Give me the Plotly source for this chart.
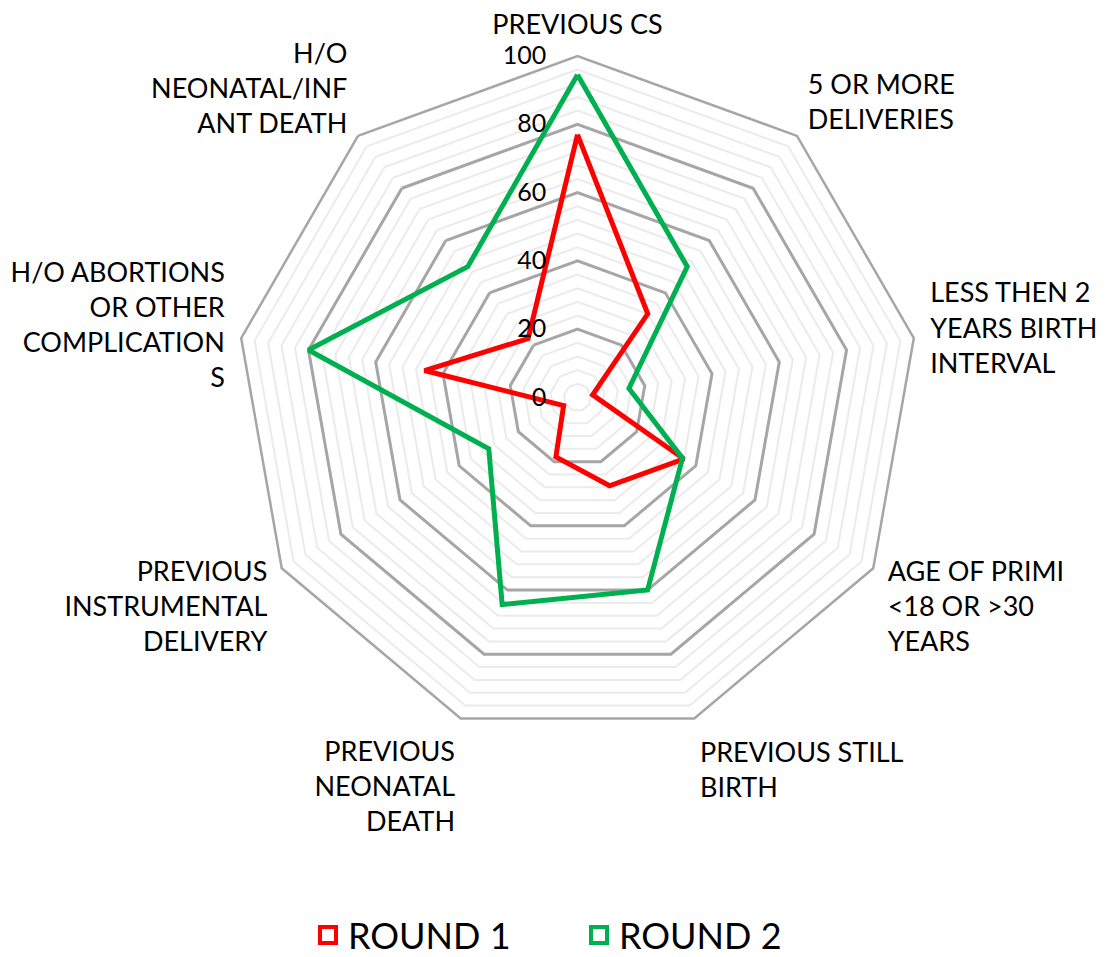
import plotly.graph_objects as go

categories = [
    "PREVIOUS CS",
    "5 OR MORE DELIVERIES",
    "LESS THEN 2 YEARS BIRTH INTERVAL",
    "AGE OF PRIMI <18 OR >30 YEARS",
    "PREVIOUS STILL BIRTH",
    "PREVIOUS NEONATAL DEATH",
    "PREVIOUS INSTRUMENTAL DELIVERY",
    "H/O ABORTIONS OR OTHER COMPLICATIONS",
    "H/O NEONATAL/INFANT DEATH",
]
# wrapped the way the original chart wraps them
tick_labels = [
    "PREVIOUS CS",
    "5 OR MORE<br>DELIVERIES",
    "LESS THEN 2<br>YEARS BIRTH<br>INTERVAL",
    "AGE OF PRIMI<br>&lt;18 OR &gt;30<br>YEARS",
    "PREVIOUS STILL<br>BIRTH",
    "PREVIOUS<br>NEONATAL<br>DEATH",
    "PREVIOUS<br>INSTRUMENTAL<br>DELIVERY",
    "H/O ABORTIONS<br>OR OTHER<br>COMPLICATION<br>S",
    "H/O<br>NEONATAL/INF<br>ANT DEATH",
]
round_1 = [77, 32, 4.5, 36, 27.5, 18.5, 4.7, 45.5, 22.5]
round_2 = [94.5, 50, 15.3, 35.5, 60, 64.5, 30, 80, 50]

RED = "#FF0000"
GREEN = "#00B050"
FONT = "Lato"


def closed(vals):
    return list(vals) + [vals[0]]


fig = go.Figure()

# invisible trace so the minor-grid subplot gets drawn
fig.add_trace(
    go.Scatterpolar(
        r=closed(round_1),
        theta=closed(categories),
        mode="lines",
        line=dict(width=0),
        opacity=0,
        hoverinfo="skip",
        showlegend=False,
        subplot="polar",
    )
)

for name, vals, color in [("ROUND 1", round_1, RED), ("ROUND 2", round_2, GREEN)]:
    fig.add_trace(
        go.Scatterpolar(
            r=closed(vals),
            theta=closed(categories),
            mode="lines",
            name=name,
            line=dict(color=color, width=5),
            showlegend=False,
            subplot="polar2",
        )
    )
    fig.add_trace(
        go.Scatterpolar(
            r=[None],
            theta=[None],
            mode="markers",
            name=name,
            marker=dict(
                symbol="square-open", size=16, color=color,
                line=dict(color=color, width=4),
            ),
            subplot="polar2",
        )
    )

domain = dict(x=[228 / 1112, 911 / 1112], y=[226 / 957, 909 / 957])

fig.update_layout(
    width=1112,
    height=957,
    margin=dict(l=0, r=0, t=0, b=0),
    paper_bgcolor="white",
    font=dict(family=FONT, color="black"),
    polar=dict(
        domain=domain,
        gridshape="linear",
        bgcolor="white",
        radialaxis=dict(
            range=[0, 100], tick0=0, dtick=4, showticklabels=False,
            showline=False, ticks="", gridcolor="#EBEBEB", gridwidth=1.5,
            angle=90,
        ),
        angularaxis=dict(
            rotation=90, direction="clockwise", showgrid=False,
            showline=False, showticklabels=False, ticks="",
        ),
    ),
    polar2=dict(
        domain=domain,
        gridshape="linear",
        bgcolor="rgba(0,0,0,0)",
        radialaxis=dict(
            range=[0, 100], tick0=0, dtick=20, showline=False,
            gridcolor="#A6A6A6", gridwidth=2.5, angle=90, tickangle=90,
            side="counterclockwise", ticks="outside", ticklen=22,
            tickcolor="rgba(0,0,0,0)", tickfont=dict(size=25, family=FONT),
        ),
        angularaxis=dict(
            rotation=90, direction="clockwise", showgrid=False,
            showline=True, linecolor="#A6A6A6", linewidth=2.5,
            tickmode="array", tickvals=categories, ticktext=tick_labels,
            ticks="outside", ticklen=10, tickcolor="rgba(0,0,0,0)",
            tickfont=dict(size=27, family=FONT),
        ),
    ),
    legend=dict(
        orientation="h", x=300 / 1112, xanchor="left", y=0.0,
        yanchor="bottom", font=dict(size=36, family=FONT),
        itemwidth=30, entrywidth=226,
    ),
)

fig.write_html("out.html")
